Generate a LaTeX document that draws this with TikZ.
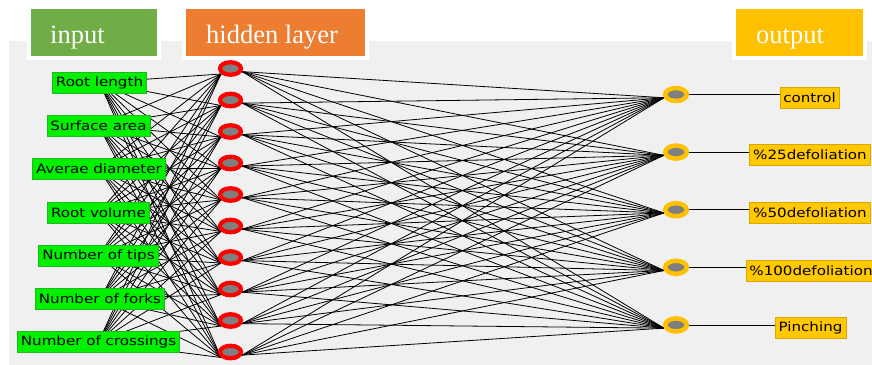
\documentclass[tikz,border=0pt]{standalone}
\usepackage{fontspec}
\usetikzlibrary{shapes.geometric}
\setmainfont{Liberation Serif}
\newfontfamily\lblfont[FakeStretch=1.18]{DejaVu Sans}

\definecolor{panel}{HTML}{F0F0F0}
\definecolor{hdrgreen}{HTML}{70AD47}
\definecolor{hdrorange}{HTML}{ED7D31}
\definecolor{hdryellow}{HTML}{FFC000}
\definecolor{ingreen}{HTML}{00F000}
\definecolor{inborder}{HTML}{1FB81F}
\definecolor{outfill}{HTML}{FFC800}
\definecolor{outborder}{HTML}{D9A800}
\definecolor{neuron}{HTML}{7F7F7F}

\pgfdeclarelayer{bg}
\pgfdeclarelayer{edges}
\pgfsetlayers{bg,edges,main}

\tikzset{
  header/.style={anchor=base west, inner sep=0pt, text=white,
    font=\fontsize{26.5}{28}\selectfont},
  inbox/.style={draw=inborder, fill=ingreen, line width=0.6pt,
    inner xsep=3.5pt, inner ysep=0pt, minimum height=21pt,
    font=\lblfont\fontsize{12.8}{14}\selectfont, text=black},
  outbox/.style={inbox, draw=outborder, fill=outfill},
  hid/.style={ellipse, draw=red, fill=neuron, line width=4.2pt,
    minimum width=21pt, minimum height=12.5pt, inner sep=0pt},
  outn/.style={ellipse, draw=hdryellow, fill=neuron, line width=4.5pt,
    minimum width=21.5pt, minimum height=13pt, inner sep=0pt},
  wire/.style={black, line width=0.8pt},
}

\begin{document}
\begin{tikzpicture}[x=1pt, y=-1pt]
\useasboundingbox (0,0) rectangle (872,364);

% panel and layer headers
\begin{pgfonlayer}{bg}
  \fill[white] (0,0) rectangle (872,364);
  \fill[panel] (9,41) rectangle (873,366);
  \fill[white] (27,0) rectangle (161,60);
  \fill[hdrgreen] (31,9) rectangle (157,56);
  \fill[white] (182,0) rectangle (369,60);
  \fill[hdrorange] (186,9) rectangle (365,56);
  \fill[white] (732,0) rectangle (867,60);
  \fill[hdryellow] (736,9) rectangle (863,56);
\end{pgfonlayer}
\node[header] (tin)  at (50,43)  {input};
\node[header] (thid) at (206,43) {hidden layer};
\node[header] (tout) at (756,43) {output};

% input features
\node[inbox] (in1) at (99.5,82.5)  {Root length};
\node[inbox] (in2) at (98.5,125.5) {Surface area};
\node[inbox] (in3) at (99,169)     {Averae diameter};
\node[inbox] (in4) at (98.5,212.5) {Root volume};
\node[inbox] (in5) at (98.5,256)   {Number of tips};
\node[inbox] (in6) at (100,299)    {Number of forks};
\node[inbox] (in7) at (98.5,342)   {Number of crossings};

% hidden neurons
\foreach \j in {1,...,10}
  \node[hid] (h\j) at (230.5,{68.5+31.5*(\j-1)}) {};

% output neurons and classes
\foreach \k in {1,...,5}
  \node[outn] (o\k) at (676,{94.5+57.6*(\k-1)}) {};
\node[outbox] (ol1) at (809.5,97.5) {control};
\node[outbox] (ol2) at (810,155)    {\%25defoliation};
\node[outbox] (ol3) at (810,213)    {\%50defoliation};
\node[outbox] (ol4) at (811,270.5)  {\%100defoliation};
\node[outbox] (ol5) at (810.5,327.5){Pinching};

% connections
\begin{pgfonlayer}{edges}
  \foreach \i in {1,...,7}
    \foreach \j in {1,...,10}
      \draw[wire] (in\i.center) -- (h\j.210);
  \foreach \j in {1,...,10}
    \foreach \k in {1,...,5}
      \draw[wire] (h\j.-15) -- (o\k.195);
  \foreach \k in {1,...,5}
    \draw[wire] (o\k.east) -- (ol\k.west |- o\k.east);
\end{pgfonlayer}
\end{tikzpicture}
\end{document}
